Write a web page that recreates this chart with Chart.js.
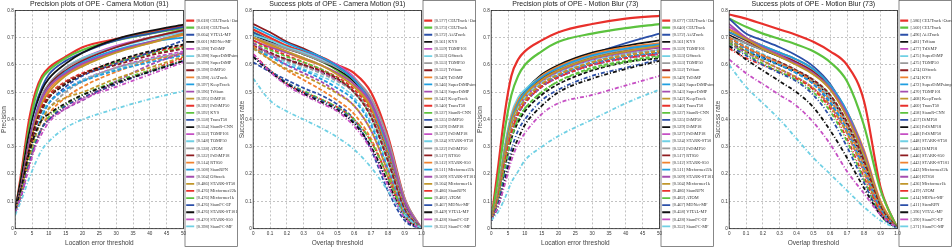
<!DOCTYPE html>
<html lang="en">
<head>
<meta charset="UTF-8">
<title>OPE plots - Camera Motion / Motion Blur</title>
<script src="https://cdn.jsdelivr.net/npm/chart.js@4.4.1/dist/chart.umd.min.js"></script>
<style>
    body { margin: 0; background: #fff; }
    .row { display: flex; width: 952px; height: 248px; }
    .panel { position: relative; width: 238px; height: 248px; }
</style>
</head>
<body>
<div class="row">
    <div class="panel"><canvas id="cm-prec"></canvas></div>
    <div class="panel"><canvas id="cm-succ"></canvas></div>
    <div class="panel"><canvas id="mb-prec"></canvas></div>
    <div class="panel"><canvas id="mb-succ"></canvas></div>
</div>
<script>
// x positions where curves were read
const precX = [0, 2, 4, 6, 8, 10, 15, 20, 30, 40, 50];
const succX = [0, 0.1, 0.2, 0.3, 0.4, 0.5, 0.6, 0.7, 0.8, 0.9, 1.0];

// ---- Precision, Camera Motion (91)
const cmPrecNames = ['CEUTrack+Ours', 'CEUTrack', 'VITAL-MF', 'MDNet-MF', 'TrDiMP', 'SuperDiMPsimple', 'SuperDiMP', 'DiMP50', 'AiATrack', 'KeepTrack', 'TrSiam', 'DiMP18', 'PrDiMP50', 'KYS', 'TransT50', 'SiamR-CNN', 'TOMP101', 'TOMP50', 'ATOM', 'PrDiMP18', 'RTS50', 'SiamRPN', 'OStrack', 'STARK-ST50', 'Mixformer22k', 'Mixformer1k', 'SiamFC-EF', 'STARK-ST101', 'STARK-S50', 'SiamFC-MF'];
const cmPrecScores = ['0.618', '0.618', '0.604', '0.601', '0.598', '0.598', '0.598', '0.598', '0.598', '0.597', '0.596', '0.595', '0.592', '0.592', '0.558', '0.554', '0.552', '0.548', '0.538', '0.532', '0.514', '0.508', '0.504', '0.486', '0.476', '0.476', '0.476', '0.476', '0.470', '0.398'];
const cmPrecValues = [
    [0.06, 0.22, 0.39, 0.50, 0.56, 0.59, 0.63, 0.665, 0.695, 0.72, 0.745],
    [0.06, 0.20, 0.36, 0.48, 0.55, 0.58, 0.625, 0.655, 0.69, 0.715, 0.735],
    [0.06, 0.18, 0.33, 0.45, 0.52, 0.565, 0.615, 0.645, 0.69, 0.715, 0.74],
    [0.07, 0.20, 0.34, 0.44, 0.51, 0.55, 0.605, 0.645, 0.695, 0.725, 0.748],
    [0.06, 0.17, 0.31, 0.42, 0.49, 0.53, 0.59, 0.625, 0.67, 0.70, 0.725],
    [0.06, 0.17, 0.31, 0.42, 0.49, 0.53, 0.59, 0.625, 0.665, 0.695, 0.72],
    [0.06, 0.16, 0.30, 0.41, 0.49, 0.53, 0.59, 0.62, 0.665, 0.70, 0.73],
    [0.06, 0.17, 0.31, 0.41, 0.48, 0.525, 0.58, 0.615, 0.665, 0.70, 0.728],
    [0.06, 0.15, 0.29, 0.40, 0.47, 0.51, 0.565, 0.60, 0.65, 0.68, 0.71],
    [0.06, 0.16, 0.30, 0.41, 0.48, 0.52, 0.575, 0.61, 0.655, 0.685, 0.70],
    [0.06, 0.16, 0.30, 0.41, 0.48, 0.52, 0.57, 0.605, 0.65, 0.685, 0.715],
    [0.06, 0.15, 0.28, 0.39, 0.46, 0.50, 0.56, 0.595, 0.645, 0.68, 0.715],
    [0.06, 0.15, 0.28, 0.38, 0.45, 0.49, 0.54, 0.57, 0.61, 0.645, 0.67],
    [0.06, 0.14, 0.26, 0.36, 0.43, 0.48, 0.535, 0.565, 0.61, 0.64, 0.665],
    [0.06, 0.14, 0.26, 0.36, 0.42, 0.46, 0.52, 0.56, 0.605, 0.645, 0.69],
    [0.06, 0.15, 0.28, 0.38, 0.44, 0.48, 0.53, 0.565, 0.615, 0.65, 0.675],
    [0.06, 0.14, 0.26, 0.36, 0.42, 0.46, 0.51, 0.545, 0.59, 0.625, 0.65],
    [0.06, 0.14, 0.26, 0.35, 0.42, 0.46, 0.51, 0.545, 0.585, 0.62, 0.64],
    [0.06, 0.14, 0.25, 0.34, 0.40, 0.44, 0.50, 0.54, 0.59, 0.62, 0.645],
    [0.06, 0.15, 0.27, 0.37, 0.44, 0.48, 0.535, 0.565, 0.60, 0.635, 0.66],
    [0.06, 0.13, 0.23, 0.31, 0.37, 0.42, 0.48, 0.52, 0.575, 0.615, 0.64],
    [0.06, 0.13, 0.24, 0.34, 0.41, 0.46, 0.51, 0.54, 0.58, 0.61, 0.635],
    [0.06, 0.13, 0.23, 0.31, 0.37, 0.40, 0.44, 0.47, 0.54, 0.60, 0.645],
    [0.06, 0.14, 0.25, 0.34, 0.40, 0.44, 0.48, 0.50, 0.55, 0.59, 0.63],
    [0.06, 0.13, 0.23, 0.31, 0.37, 0.40, 0.45, 0.48, 0.53, 0.58, 0.625],
    [0.06, 0.14, 0.24, 0.32, 0.37, 0.41, 0.455, 0.49, 0.54, 0.58, 0.615],
    [0.06, 0.13, 0.23, 0.31, 0.37, 0.40, 0.45, 0.48, 0.53, 0.575, 0.615],
    [0.07, 0.16, 0.27, 0.35, 0.40, 0.42, 0.46, 0.49, 0.535, 0.575, 0.615],
    [0.06, 0.13, 0.22, 0.30, 0.35, 0.39, 0.44, 0.475, 0.52, 0.565, 0.61],
    [0.05, 0.11, 0.18, 0.24, 0.29, 0.32, 0.37, 0.40, 0.44, 0.475, 0.505]
];

// ---- Success, Camera Motion (91)
const cmSuccNames = ['CEUTrack+Ours', 'CEUTrack', 'AiATrack', 'KYS', 'TOMP101', 'OStrack', 'TOMP50', 'TrSiam', 'TrDiMP', 'SuperDiMPsimple', 'SuperDiMP', 'KeepTrack', 'TransT50', 'SiamR-CNN', 'DiMP50', 'DiMP18', 'PrDiMP18', 'STARK-ST50', 'PrDiMP50', 'RTS50', 'STARK-S50', 'Mixformer22k', 'STARK-ST101', 'Mixformer1k', 'SiamRPN', 'ATOM', 'MDNet-MF', 'VITAL-MF', 'SiamFC-EF', 'SiamFC-MF'];
const cmSuccScores = ['0.577', '0.573', '0.572', '0.561', '0.559', '0.553', '0.553', '0.552', '0.549', '0.546', '0.543', '0.542', '0.540', '0.537', '0.535', '0.529', '0.527', '0.524', '0.522', '0.517', '0.512', '0.511', '0.509', '0.504', '0.486', '0.482', '0.467', '0.449', '0.428', '0.352'];
const cmSuccValues = [
    [0.73, 0.70, 0.67, 0.65, 0.63, 0.60, 0.57, 0.50, 0.34, 0.11, 0.0],
    [0.72, 0.69, 0.665, 0.64, 0.615, 0.58, 0.53, 0.45, 0.30, 0.09, 0.0],
    [0.72, 0.69, 0.665, 0.645, 0.62, 0.59, 0.54, 0.45, 0.28, 0.08, 0.0],
    [0.71, 0.685, 0.66, 0.64, 0.615, 0.585, 0.54, 0.46, 0.30, 0.09, 0.0],
    [0.70, 0.68, 0.66, 0.645, 0.625, 0.60, 0.555, 0.47, 0.31, 0.10, 0.0],
    [0.71, 0.69, 0.665, 0.645, 0.62, 0.59, 0.545, 0.46, 0.29, 0.08, 0.0],
    [0.70, 0.68, 0.66, 0.64, 0.615, 0.59, 0.55, 0.48, 0.33, 0.11, 0.0],
    [0.75, 0.72, 0.685, 0.66, 0.63, 0.595, 0.545, 0.46, 0.29, 0.08, 0.0],
    [0.70, 0.67, 0.645, 0.62, 0.60, 0.57, 0.53, 0.45, 0.29, 0.08, 0.0],
    [0.74, 0.71, 0.68, 0.655, 0.63, 0.595, 0.545, 0.46, 0.29, 0.08, 0.0],
    [0.69, 0.665, 0.645, 0.625, 0.60, 0.57, 0.53, 0.46, 0.31, 0.10, 0.0],
    [0.70, 0.675, 0.65, 0.625, 0.60, 0.565, 0.52, 0.44, 0.28, 0.08, 0.0],
    [0.69, 0.66, 0.635, 0.61, 0.585, 0.555, 0.51, 0.43, 0.27, 0.07, 0.0],
    [0.68, 0.655, 0.63, 0.61, 0.585, 0.55, 0.50, 0.41, 0.25, 0.06, 0.0],
    [0.61, 0.575, 0.545, 0.515, 0.49, 0.455, 0.40, 0.29, 0.14, 0.03, 0.0],
    [0.66, 0.64, 0.62, 0.60, 0.575, 0.545, 0.50, 0.42, 0.27, 0.08, 0.0],
    [0.67, 0.645, 0.62, 0.60, 0.575, 0.545, 0.50, 0.41, 0.25, 0.07, 0.0],
    [0.66, 0.635, 0.61, 0.585, 0.56, 0.53, 0.48, 0.39, 0.23, 0.06, 0.0],
    [0.66, 0.64, 0.615, 0.595, 0.57, 0.54, 0.50, 0.42, 0.27, 0.08, 0.0],
    [0.67, 0.645, 0.62, 0.60, 0.58, 0.55, 0.50, 0.41, 0.25, 0.07, 0.0],
    [0.67, 0.62, 0.58, 0.545, 0.51, 0.47, 0.42, 0.33, 0.19, 0.05, 0.0],
    [0.66, 0.63, 0.60, 0.58, 0.55, 0.515, 0.47, 0.38, 0.22, 0.06, 0.0],
    [0.68, 0.64, 0.60, 0.57, 0.54, 0.50, 0.45, 0.36, 0.21, 0.05, 0.0],
    [0.66, 0.62, 0.585, 0.56, 0.53, 0.495, 0.45, 0.36, 0.21, 0.05, 0.0],
    [0.64, 0.58, 0.53, 0.50, 0.475, 0.445, 0.40, 0.32, 0.19, 0.05, 0.0],
    [0.63, 0.58, 0.535, 0.505, 0.475, 0.445, 0.40, 0.32, 0.19, 0.05, 0.0],
    [0.63, 0.58, 0.535, 0.50, 0.47, 0.44, 0.39, 0.30, 0.17, 0.04, 0.0],
    [0.63, 0.575, 0.53, 0.495, 0.465, 0.435, 0.385, 0.30, 0.17, 0.04, 0.0],
    [0.64, 0.575, 0.525, 0.49, 0.46, 0.43, 0.375, 0.29, 0.16, 0.04, 0.0],
    [0.55, 0.47, 0.43, 0.40, 0.37, 0.335, 0.29, 0.225, 0.14, 0.05, 0.0]
];

// ---- Precision, Motion Blur (73)
const mbPrecNames = ['CEUTrack+Ours', 'CEUTrack', 'AiATrack', 'KYS', 'TOMP101', 'OStrack', 'TOMP50', 'TrSiam', 'TrDiMP', 'SuperDiMPsimple', 'SuperDiMP', 'KeepTrack', 'TransT50', 'SiamR-CNN', 'DiMP50', 'DiMP18', 'PrDiMP18', 'STARK-ST50', 'PrDiMP50', 'RTS50', 'STARK-S50', 'Mixformer22k', 'STARK-ST101', 'Mixformer1k', 'SiamRPN', 'ATOM', 'MDNet-MF', 'VITAL-MF', 'SiamFC-EF', 'SiamFC-MF'];
const mbPrecScores = ['0.677', '0.640', '0.572', '0.561', '0.559', '0.553', '0.553', '0.552', '0.549', '0.546', '0.543', '0.542', '0.540', '0.537', '0.535', '0.529', '0.527', '0.524', '0.522', '0.517', '0.512', '0.511', '0.509', '0.504', '0.486', '0.482', '0.467', '0.458', '0.428', '0.352'];
const mbPrecValues = [
    [0.03, 0.22, 0.42, 0.56, 0.62, 0.65, 0.69, 0.72, 0.75, 0.77, 0.78],
    [0.03, 0.18, 0.36, 0.49, 0.56, 0.60, 0.65, 0.685, 0.715, 0.735, 0.75],
    [0.03, 0.12, 0.28, 0.40, 0.47, 0.50, 0.56, 0.595, 0.64, 0.68, 0.715],
    [0.03, 0.13, 0.29, 0.41, 0.47, 0.505, 0.565, 0.60, 0.645, 0.67, 0.69],
    [0.03, 0.12, 0.27, 0.39, 0.45, 0.48, 0.54, 0.575, 0.62, 0.65, 0.665],
    [0.03, 0.13, 0.30, 0.42, 0.48, 0.51, 0.56, 0.59, 0.625, 0.65, 0.67],
    [0.03, 0.12, 0.28, 0.40, 0.46, 0.49, 0.55, 0.585, 0.63, 0.655, 0.675],
    [0.03, 0.12, 0.27, 0.39, 0.45, 0.49, 0.55, 0.58, 0.625, 0.65, 0.665],
    [0.03, 0.13, 0.29, 0.41, 0.47, 0.50, 0.56, 0.595, 0.64, 0.665, 0.68],
    [0.03, 0.12, 0.28, 0.40, 0.46, 0.50, 0.555, 0.59, 0.635, 0.66, 0.675],
    [0.03, 0.11, 0.26, 0.38, 0.44, 0.48, 0.54, 0.575, 0.62, 0.645, 0.665],
    [0.03, 0.12, 0.27, 0.39, 0.45, 0.49, 0.545, 0.58, 0.625, 0.65, 0.67],
    [0.03, 0.11, 0.25, 0.36, 0.43, 0.47, 0.53, 0.565, 0.61, 0.635, 0.655],
    [0.03, 0.10, 0.23, 0.34, 0.40, 0.44, 0.50, 0.54, 0.59, 0.615, 0.635],
    [0.03, 0.11, 0.24, 0.35, 0.42, 0.46, 0.52, 0.555, 0.60, 0.625, 0.645],
    [0.03, 0.10, 0.22, 0.33, 0.39, 0.43, 0.49, 0.53, 0.58, 0.61, 0.625],
    [0.03, 0.11, 0.25, 0.36, 0.43, 0.47, 0.53, 0.565, 0.61, 0.635, 0.65],
    [0.03, 0.11, 0.25, 0.37, 0.44, 0.48, 0.535, 0.57, 0.615, 0.64, 0.655],
    [0.03, 0.11, 0.25, 0.36, 0.43, 0.47, 0.53, 0.565, 0.61, 0.64, 0.655],
    [0.03, 0.11, 0.25, 0.36, 0.43, 0.465, 0.525, 0.56, 0.605, 0.63, 0.645],
    [0.03, 0.11, 0.25, 0.36, 0.43, 0.47, 0.53, 0.565, 0.61, 0.635, 0.65],
    [0.03, 0.11, 0.25, 0.36, 0.42, 0.46, 0.52, 0.56, 0.605, 0.63, 0.645],
    [0.03, 0.11, 0.24, 0.35, 0.42, 0.46, 0.52, 0.555, 0.60, 0.625, 0.64],
    [0.03, 0.11, 0.25, 0.36, 0.43, 0.47, 0.53, 0.565, 0.61, 0.635, 0.65],
    [0.03, 0.11, 0.24, 0.35, 0.42, 0.46, 0.52, 0.555, 0.60, 0.625, 0.64],
    [0.03, 0.10, 0.22, 0.33, 0.40, 0.44, 0.50, 0.54, 0.585, 0.61, 0.63],
    [0.03, 0.09, 0.19, 0.29, 0.36, 0.40, 0.47, 0.51, 0.56, 0.59, 0.62],
    [0.03, 0.08, 0.17, 0.27, 0.33, 0.38, 0.45, 0.50, 0.55, 0.585, 0.615],
    [0.03, 0.08, 0.16, 0.25, 0.31, 0.35, 0.42, 0.46, 0.49, 0.525, 0.56],
    [0.03, 0.06, 0.11, 0.17, 0.21, 0.25, 0.30, 0.34, 0.40, 0.46, 0.51]
];

// ---- Success, Motion Blur (73)
const mbSuccNames = ['CEUTrack+Ours', 'CEUTrack', 'AiATrack', 'TrSiam', 'TrDiMP', 'SuperDiMP', 'TOMP50', 'OStrack', 'KYS', 'SuperDiMPsimple', 'TOMP101', 'KeepTrack', 'TransT50', 'SiamR-CNN', 'DiMP50', 'PrDiMP18', 'PrDiMP50', 'STARK-ST50', 'DiMP18', 'STARK-S50', 'STARK-ST101', 'Mixformer22k', 'RTS50', 'Mixformer1k', 'ATOM', 'MDNet-MF', 'SiamRPN', 'VITAL-MF', 'SiamFC-EF', 'SiamFC-MF'];
const mbSuccScores = ['.586', '.560', '.496', '.481', '.477', '.475', '.475', '.474', '.474', '.472', '.470', '.468', '.460', '.458', '.457', '.456', '.448', '.448', '.446', '.446', '.443', '.443', '.440', '.436', '.419', '.414', '.411', '.396', '.390', '.371'];
const mbSuccValues = [
    [0.785, 0.77, 0.75, 0.73, 0.71, 0.685, 0.65, 0.60, 0.47, 0.15, 0.0],
    [0.77, 0.74, 0.715, 0.695, 0.675, 0.65, 0.61, 0.54, 0.38, 0.14, 0.0],
    [0.77, 0.715, 0.69, 0.665, 0.635, 0.595, 0.53, 0.42, 0.26, 0.08, 0.0],
    [0.71, 0.68, 0.655, 0.63, 0.605, 0.575, 0.52, 0.42, 0.27, 0.09, 0.0],
    [0.74, 0.70, 0.67, 0.64, 0.61, 0.57, 0.51, 0.41, 0.27, 0.09, 0.0],
    [0.72, 0.695, 0.67, 0.645, 0.62, 0.58, 0.52, 0.42, 0.27, 0.08, 0.0],
    [0.70, 0.68, 0.655, 0.635, 0.61, 0.575, 0.52, 0.42, 0.28, 0.09, 0.0],
    [0.72, 0.69, 0.66, 0.635, 0.61, 0.575, 0.52, 0.42, 0.28, 0.09, 0.0],
    [0.73, 0.70, 0.67, 0.645, 0.62, 0.585, 0.525, 0.43, 0.29, 0.10, 0.0],
    [0.72, 0.695, 0.67, 0.645, 0.62, 0.585, 0.525, 0.43, 0.28, 0.09, 0.0],
    [0.75, 0.70, 0.665, 0.635, 0.605, 0.57, 0.515, 0.42, 0.28, 0.09, 0.0],
    [0.73, 0.695, 0.66, 0.63, 0.60, 0.565, 0.51, 0.41, 0.27, 0.09, 0.0],
    [0.70, 0.665, 0.635, 0.61, 0.58, 0.54, 0.48, 0.38, 0.24, 0.07, 0.0],
    [0.69, 0.66, 0.635, 0.61, 0.58, 0.545, 0.49, 0.39, 0.25, 0.08, 0.0],
    [0.69, 0.66, 0.63, 0.60, 0.57, 0.53, 0.46, 0.36, 0.22, 0.07, 0.0],
    [0.68, 0.65, 0.625, 0.60, 0.575, 0.54, 0.48, 0.38, 0.24, 0.08, 0.0],
    [0.70, 0.665, 0.635, 0.605, 0.575, 0.535, 0.475, 0.38, 0.24, 0.07, 0.0],
    [0.70, 0.67, 0.64, 0.61, 0.58, 0.54, 0.48, 0.38, 0.24, 0.07, 0.0],
    [0.69, 0.66, 0.635, 0.61, 0.58, 0.545, 0.485, 0.385, 0.245, 0.08, 0.0],
    [0.70, 0.665, 0.635, 0.61, 0.58, 0.545, 0.49, 0.39, 0.25, 0.08, 0.0],
    [0.70, 0.665, 0.635, 0.605, 0.575, 0.535, 0.47, 0.37, 0.23, 0.07, 0.0],
    [0.69, 0.655, 0.625, 0.60, 0.57, 0.53, 0.465, 0.36, 0.22, 0.07, 0.0],
    [0.68, 0.645, 0.615, 0.585, 0.555, 0.515, 0.45, 0.35, 0.21, 0.06, 0.0],
    [0.69, 0.65, 0.615, 0.585, 0.555, 0.515, 0.45, 0.35, 0.21, 0.06, 0.0],
    [0.66, 0.625, 0.60, 0.575, 0.55, 0.51, 0.44, 0.33, 0.19, 0.06, 0.0],
    [0.68, 0.64, 0.605, 0.575, 0.545, 0.50, 0.43, 0.32, 0.18, 0.05, 0.0],
    [0.67, 0.635, 0.60, 0.57, 0.54, 0.49, 0.41, 0.30, 0.17, 0.05, 0.0],
    [0.67, 0.62, 0.58, 0.54, 0.50, 0.445, 0.36, 0.26, 0.15, 0.05, 0.0],
    [0.62, 0.57, 0.53, 0.49, 0.45, 0.39, 0.31, 0.21, 0.13, 0.05, 0.0],
    [0.60, 0.52, 0.46, 0.40, 0.33, 0.26, 0.20, 0.14, 0.08, 0.03, 0.0]
];

// matlab-ish tracker palette: 12 colours, solid / dashed / dash-dot
const palette = ['#e8302b', '#5cc23e', '#2b4fa8', '#111111', '#c64fc4', '#6fd0e4', '#9a9a9a', '#8e1b1f', '#f0822e', '#1f9ee0', '#a44db0', '#c0962a'];
const dashes = [[], [4, 2], [4, 2, 1, 2]];

// closed axes box, a frame round the legend, and a tighter legend (chart.js pads it by 10px)
const boxPlugin = {
    id: 'boxes',
    beforeLayout(chart) {
        const lg = chart.legend;
        if (lg && !lg._trimmed) {
            const fit = lg.fit.bind(lg);
            lg.fit = function () { fit(); this.width -= 5; };
            lg._trimmed = true;
        }
    },
    afterDraw(chart) {
        const ctx = chart.ctx;
        const a = chart.chartArea;
        const lg = chart.legend;
        ctx.save();
        ctx.strokeStyle = '#222';
        ctx.lineWidth = 0.8;
        ctx.strokeRect(a.left, a.top, a.right - a.left, a.bottom - a.top);
        ctx.strokeStyle = '#555';
        ctx.lineWidth = 0.7;
        ctx.strokeRect(lg.left + 1.5, lg.top + 0.5, lg.width - 2, lg.height - 1);
        ctx.restore();
    }
};

function makeChart(canvasId, title, xTitle, yTitle, xs, xMax, xStep, names, scores, values) {
    const datasets = values.map((row, i) => ({
        label: '[' + scores[i] + '] ' + names[i],
        data: row.map((v, j) => ({ x: xs[j], y: v })),
        borderColor: palette[i % 12],
        backgroundColor: palette[i % 12],
        borderWidth: i < 2 ? 2.2 : 1.8,
        borderDash: dashes[Math.floor(i / 12)],
        pointRadius: 0,
        pointStyle: 'line',
        cubicInterpolationMode: 'monotone',
        fill: false,
        order: values.length - i
    }));

    const gridOpts = { color: '#9a9a9a', lineWidth: 0.6, tickLength: 0 };
    const tickFont = { family: 'Liberation Sans', size: 4.6 };
    const axisFont = { family: 'Liberation Sans', size: 6.5 };
    new Chart(document.getElementById(canvasId), {
        type: 'line',
        data: { datasets },
        plugins: [boxPlugin],
        options: {
            responsive: true,
            maintainAspectRatio: false,
            animation: false,
            layout: { padding: { left: 0, right: 0, top: 0, bottom: 1 } },
            plugins: {
                title: {
                    display: true,
                    fullSize: false,
                    text: title,
                    color: '#222',
                    font: { family: 'Liberation Sans', size: 7, weight: 'normal' },
                    padding: { top: 0, bottom: 2 }
                },
                legend: {
                    position: 'right',
                    labels: {
                        usePointStyle: true,
                        pointStyle: 'line',
                        pointStyleWidth: 8,
                        color: '#333',
                        padding: 2.7,
                        font: { family: 'Liberation Sans Narrow', size: 4.4 },
                        sort: (a, b) => a.datasetIndex - b.datasetIndex
                    }
                },
                tooltip: { enabled: false }
            },
            scales: {
                x: {
                    type: 'linear',
                    min: 0,
                    max: xMax,
                    ticks: { stepSize: xStep, color: '#333', font: tickFont, padding: 2, maxRotation: 0 },
                    grid: { ...gridOpts },
                    border: { display: false, dash: [2, 2] },
                    title: { display: true, text: xTitle, color: '#444', font: axisFont, padding: { top: 1, bottom: 0 } }
                },
                y: {
                    min: 0,
                    max: 0.8,
                    ticks: { stepSize: 0.1, color: '#333', font: tickFont, padding: 1.5 },
                    grid: { ...gridOpts },
                    border: { display: false, dash: [2, 2] },
                    title: { display: true, text: yTitle, color: '#444', font: axisFont, padding: { top: 0, bottom: -2 } }
                }
            }
        }
    });
}

makeChart('cm-prec', 'Precision plots of OPE - Camera Motion (91)', 'Location error threshold', 'Precision', precX, 50, 5, cmPrecNames, cmPrecScores, cmPrecValues);
makeChart('cm-succ', 'Success plots of OPE - Camera Motion (91)', 'Overlap threshold', 'Success rate', succX, 1, 0.1, cmSuccNames, cmSuccScores, cmSuccValues);
makeChart('mb-prec', 'Precision plots of OPE - Motion Blur (73)', 'Location error threshold', 'Precision', precX, 50, 5, mbPrecNames, mbPrecScores, mbPrecValues);
makeChart('mb-succ', 'Success plots of OPE - Motion Blur (73)', 'Overlap threshold', 'Success rate', succX, 1, 0.1, mbSuccNames, mbSuccScores, mbSuccValues);
</script>
</body>
</html>
